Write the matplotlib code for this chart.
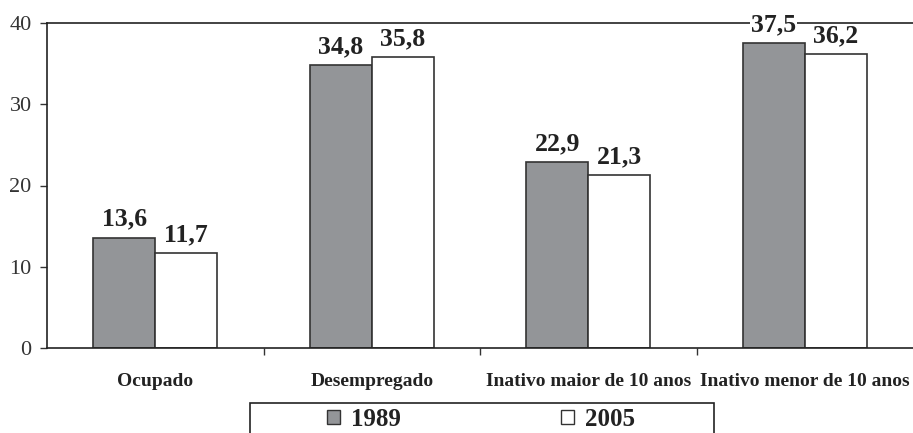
import numpy as np
import matplotlib.pyplot as plt
from matplotlib.patches import Rectangle, Patch

# dados
categorias = ['Ocupado', 'Desempregado', 'Inativo maior de 10 anos', 'Inativo menor de 10 anos']
v1989 = [13.6, 34.8, 22.9, 37.5]
v2005 = [11.7, 35.8, 21.3, 36.2]
yticks = [0, 10, 20, 30, 40]

plt.rcParams['font.family'] = ['Liberation Serif', 'DejaVu Serif']

fig = plt.figure(figsize=(9.13, 4.33), dpi=100)
ax = fig.add_axes([47/913, 1 - 348/433, 1 - 47/913, 325/433])

x = np.arange(len(categorias))
w = 0.287
cinza = '#939598'
borda = '#333333'

b1 = ax.bar(x - w/2, v1989, w, color=cinza, edgecolor=borda, linewidth=1.2, label='1989')
b2 = ax.bar(x + w/2, v2005, w, color='white', edgecolor=borda, linewidth=1.2, label='2005')

for barras in (b1, b2):
    for b in barras:
        h = b.get_height()
        # so o rotulo que cruza a linha do topo recebe fundo branco
        fundo = dict(facecolor='white', edgecolor='none', pad=0.5) if h >= 37 else None
        ax.annotate(f'{h:.1f}'.replace('.', ','), (b.get_x() + b.get_width()/2, h),
                    xytext=(0, 12), textcoords='offset pixels',
                    ha='center', va='baseline', fontsize=18.5, fontweight='bold',
                    color='#222222', zorder=5, bbox=fundo,
                    annotation_clip=False)

ax.set_xlim(-0.5, 3.5)
ax.set_ylim(0, 40)
ax.set_yticks(yticks)
ax.set_yticklabels([str(t) for t in yticks], fontsize=16, color='#333333')
ax.tick_params(axis='y', direction='out', length=5, width=1, pad=6, color='#333333')

ax.set_xticks(x)
ax.set_xticklabels(categorias, fontsize=14, fontweight='bold', color='#222222')
ax.tick_params(axis='x', which='major', length=0, pad=18)
ax.set_xticks([0.5, 1.5, 2.5], minor=True)
ax.tick_params(axis='x', which='minor', direction='out', length=5, width=1, color='#333333')

ax.spines['right'].set_visible(False)
for s in ('left', 'top', 'bottom'):
    ax.spines[s].set_color('#222222')
    ax.spines[s].set_linewidth(1.2)

# caixa da legenda
fig.patches.append(Rectangle((250/913, -0.05), 464/913, 0.05 + 30/433,
                             transform=fig.transFigure, facecolor='white',
                             edgecolor='#222222', linewidth=1.2))
h1 = Patch(facecolor=cinza, edgecolor=borda, linewidth=1)
h2 = Patch(facecolor='white', edgecolor=borda, linewidth=1)
for h, lab, cx in ((h1, '1989', 364), (h2, '2005', 598)):
    fig.legend([h], [lab], loc='center', bbox_to_anchor=(cx/913, 1 - 419/433),
               frameon=False, handlelength=0.5, handleheight=0.5, handletextpad=0.45,
               prop={'size': 18, 'weight': 'bold'}, labelcolor='#222222')

fig.savefig('out.png', dpi=100)
